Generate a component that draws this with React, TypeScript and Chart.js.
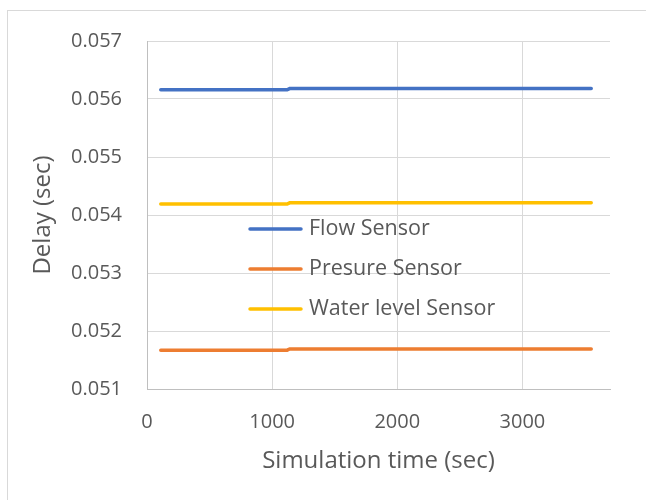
import React, { useEffect, useRef } from "react";
import { Chart, registerables } from "chart.js";

Chart.register(...registerables);

const timeSec = [110, 1120, 1140, 3550];
const flowSensor = [0.05616, 0.05616, 0.05618, 0.05618];
const presureSensor = [0.05167, 0.05167, 0.05169, 0.05169];
const waterLevelSensor = [0.05419, 0.05419, 0.05421, 0.05421];
const seriesNames = ["Flow Sensor", "Presure Sensor", "Water level Sensor"];
const seriesColors = ["#4472C4", "#ED7D31", "#FFC000"];
const xTicks = [0, 1000, 2000, 3000];
const yTicks = [0.051, 0.052, 0.053, 0.054, 0.055, 0.056, 0.057];

const FONT = "'Open Sans', 'Noto Sans', sans-serif";
const TEXT = "#595959";

const legendPlugin = {
  id: "insideLegend",
  afterDatasetsDraw(chart: any) {
    const { ctx, chartArea } = chart;
    const x0 = chartArea.left + 101;
    const y0 = chartArea.top + 188;
    ctx.save();
    ctx.font = `21.5px ${FONT}`;
    ctx.textBaseline = "middle";
    ctx.textAlign = "left";
    chart.data.datasets.forEach((ds: any, i: number) => {
      const y = y0 + i * 40;
      ctx.strokeStyle = ds.borderColor;
      ctx.lineWidth = 3.5;
      ctx.lineCap = "round";
      ctx.beginPath();
      ctx.moveTo(x0 + 2, y);
      ctx.lineTo(x0 + 53, y);
      ctx.stroke();
      ctx.fillStyle = TEXT;
      ctx.fillText(ds.label, x0 + 61, y);
    });
    ctx.restore();
  },
};

export default function App() {
  const ref = useRef<HTMLCanvasElement>(null);
  useEffect(() => {
    const series = [flowSensor, presureSensor, waterLevelSensor];
    const chart = new Chart(ref.current!, {
      type: "scatter",
      data: {
        datasets: series.map((vals, i) => ({
          label: seriesNames[i],
          data: timeSec.map((t, j) => ({ x: t, y: vals[j] })),
          showLine: true,
          borderColor: seriesColors[i],
          backgroundColor: seriesColors[i],
          borderWidth: 3.5,
          borderCapStyle: "round",
          pointRadius: 0,
          tension: 0,
        })),
      },
      plugins: [legendPlugin],
      options: {
        animation: false,
        responsive: true,
        maintainAspectRatio: false,
        layout: { padding: { top: 30, right: 36, left: 0, bottom: 0 } },
        plugins: { legend: { display: false }, tooltip: { enabled: false } },
        scales: {
          x: {
            type: "linear",
            min: 0,
            max: 3700,
            afterBuildTicks: (scale: any) => {
              scale.ticks = xTicks.map((v) => ({ value: v }));
            },
            afterFit: (scale: any) => {
              scale.height = 111;
            },
            grid: { color: "#d9d9d9", drawTicks: false },
            border: { color: "#bfbfbf" },
            ticks: {
              padding: 21,
              color: TEXT,
              font: { family: FONT, size: 20 },
              maxRotation: 0,
              callback: (v: any) => String(v),
            },
            title: {
              display: true,
              text: "Simulation time (sec)",
              color: TEXT,
              font: { family: FONT, size: 24 },
              padding: { top: 0, bottom: 24 },
            },
          },
          y: {
            type: "linear",
            min: 0.051,
            max: 0.057,
            afterBuildTicks: (scale: any) => {
              scale.ticks = yTicks.map((v) => ({ value: v }));
            },
            afterFit: (scale: any) => {
              scale.width = 139;
            },
            grid: {
              color: "#d9d9d9",
              drawTicks: true,
              tickLength: 22,
              tickColor: "rgba(0,0,0,0)",
            },
            border: { color: "#bfbfbf" },
            ticks: {
              padding: 3,
              color: TEXT,
              font: { family: FONT, size: 20 },
              callback: (v: any) => Number(v).toFixed(3),
            },
            title: {
              display: true,
              text: "Delay (sec)",
              color: TEXT,
              font: { family: FONT, size: 24 },
              padding: { top: 21, bottom: 0 },
            },
          },
        },
      },
    });
    return () => chart.destroy();
  }, []);

  return (
    <div
      style={{
        position: "absolute",
        left: 7,
        top: 10,
        width: 700,
        height: 500,
        borderTop: "1px solid #d9d9d9",
        borderLeft: "1px solid #d9d9d9",
        background: "#fff",
      }}
    >
      <div style={{ position: "relative", width: 638, height: 489 }}>
        <canvas ref={ref} />
      </div>
    </div>
  );
}
